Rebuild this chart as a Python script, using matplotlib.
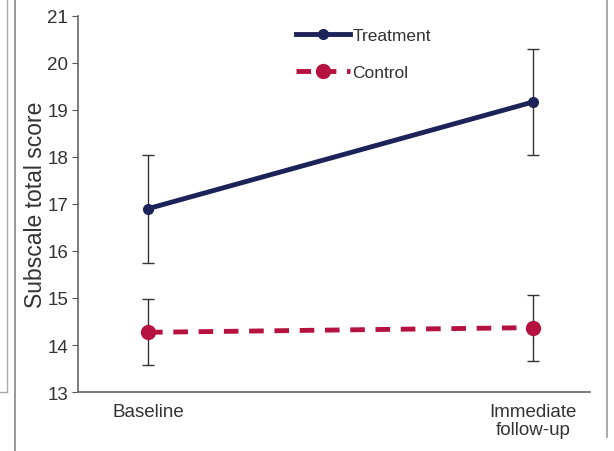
import matplotlib.pyplot as plt
from matplotlib.lines import Line2D

plt.rcParams['font.family'] = ['Liberation Sans', 'DejaVu Sans']

timepoints = ['Baseline', 'Immediate\nfollow-up']
treatment_mean = [16.9, 19.17]
treatment_err = [1.15, 1.13]
control_mean = [14.27, 14.37]
control_err = [0.7, 0.7]

fig = plt.figure(figsize=(6.14, 4.52), dpi=100)
ax = fig.add_axes([0.127, 0.1305, 0.834, 0.832])

x = list(range(len(timepoints)))

treat_style = dict(color='#1c2358', lw=3.5, marker='o', ms=7)
ctrl_style = dict(color='#b5123f', lw=3.5, ls=(0, (3, 2.2)), marker='o', ms=10)

ax.errorbar(x, treatment_mean, yerr=treatment_err, ecolor='#333333',
            elinewidth=1, capsize=4, capthick=1, zorder=3, **treat_style)
ax.errorbar(x, control_mean, yerr=control_err, ecolor='#333333',
            elinewidth=1, capsize=4, capthick=1, zorder=3, **ctrl_style)

ax.set_xlim(-0.182, 1.148)
ax.set_ylim(13, 21)
ax.set_yticks(range(13, 22))
ax.set_xticks(x)
ax.set_xticklabels(timepoints, fontsize=13.5, color='#333333', linespacing=1.05)
ax.tick_params(axis='x', length=0, pad=8)
ax.tick_params(axis='y', direction='out', length=4, color='#555555',
               labelsize=13.5, labelcolor='#333333', pad=3)
ax.set_ylabel('Subscale total score', fontsize=16.5, color='#333333', labelpad=0)

for side in ['top', 'right']:
    ax.spines[side].set_visible(False)
for side in ['left', 'bottom']:
    ax.spines[side].set_color('#666666')
    ax.spines[side].set_linewidth(1.2)

handles = [Line2D([], [], **treat_style), Line2D([], [], **ctrl_style)]
ax.legend(handles, ['Treatment', 'Control'], loc='upper left',
          bbox_to_anchor=(0.395, 1.01), frameon=False, fontsize=12.5,
          handlelength=3.1, labelspacing=1.25, handletextpad=0.15,
          labelcolor='#333333')

# panel borders around the plot
fig.add_artist(Line2D([0.025, 0.025], [0.0, 1.0], color='#888888', lw=1.2))
fig.add_artist(Line2D([0.012, 0.012], [0.13, 1.0], color='#aaaaaa', lw=1))
fig.add_artist(Line2D([0.0, 0.012], [0.13, 0.13], color='#aaaaaa', lw=1))
fig.add_artist(Line2D([0.989, 0.989], [0.03, 1.0], color='#999999', lw=1.2))

fig.savefig('out.png', dpi=100)
